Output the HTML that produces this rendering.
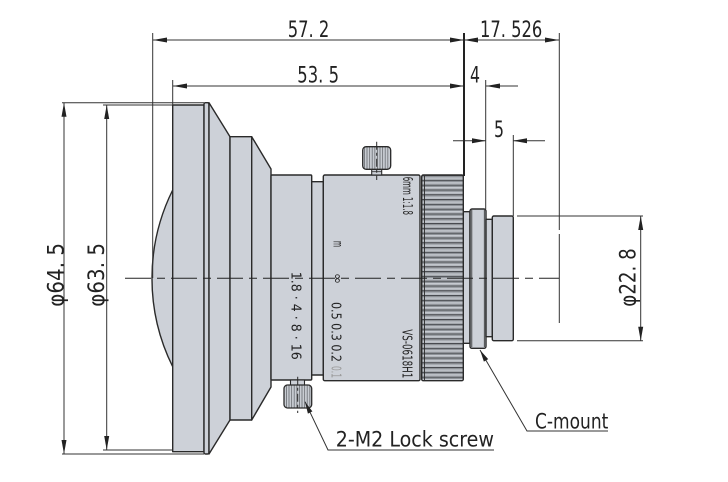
<!DOCTYPE html>
<html><head><meta charset="utf-8"><style>
html,body{margin:0;padding:0;background:#fff;}
svg{display:block;}
text{font-family:"DejaVu Sans","Liberation Sans",sans-serif;fill:#222;}
</style></head><body>
<svg width="728" height="482" viewBox="0 0 728 482" xmlns="http://www.w3.org/2000/svg">
<defs>
<pattern id="kn" patternUnits="userSpaceOnUse" x="0" y="175" width="10" height="4.8">
<rect width="10" height="4.8" fill="#c6cad0"/>
<rect y="0" width="10" height="1.2" fill="#46484d"/>
<rect y="1.2" width="10" height="1.2" fill="#8f9399"/>
<rect y="3.6" width="10" height="0.7" fill="#a9adb3"/>
</pattern>
<pattern id="sc" patternUnits="userSpaceOnUse" x="0" y="0" width="2.6" height="10">
<rect width="2.6" height="10" fill="#c8ccd2"/>
<rect width="0.8" height="10" fill="#6a6d72"/>
</pattern>
</defs>

<g fill="#cdd1d8" stroke="#2a2a2a" stroke-width="1.4" stroke-linejoin="round">
<path d="M172.7,190 A198.7,198.7 0 0 0 172.7,366.7 Z"/>
<rect x="172.7" y="105" width="31.3" height="346.7"/>
<rect x="204" y="102.7" width="5" height="351.3" rx="1.5"/>
<polygon points="209,102.7 230,136.7 230,420 209,454"/>
<rect x="230" y="136.7" width="21.7" height="283.3"/>
<polygon points="251.7,136.7 271,169 271,387 251.7,420"/>
<rect x="271" y="175" width="40.7" height="205" rx="1"/>
<rect x="311.7" y="181.7" width="11.6" height="193.3"/>
<rect x="323.3" y="175" width="96.7" height="205.7" rx="1.5"/>
<rect x="463.3" y="211.7" width="6.7" height="131.6"/>
<rect x="470" y="209" width="16" height="139.3" rx="2"/>
<rect x="486" y="219.3" width="6.3" height="117.4"/>
<rect x="492.3" y="216" width="21" height="124.7" rx="1.5"/>
</g>
<line x1="471.8" y1="210" x2="471.8" y2="347" stroke="#2a2a2a" stroke-width="0.8"/>
<line x1="484.3" y1="210" x2="484.3" y2="347" stroke="#2a2a2a" stroke-width="0.8"/>

<rect x="421.7" y="175" width="41.6" height="205.7" rx="1.5" fill="url(#kn)" stroke="#2a2a2a" stroke-width="1.4"/>
<line x1="424.5" y1="176" x2="424.5" y2="380" stroke="#2a2a2a" stroke-width="0.9"/>

<rect x="371.7" y="168.5" width="10" height="6.5" fill="#cdd1d8" stroke="#2a2a2a" stroke-width="1.1"/>
<line x1="371.7" y1="171.7" x2="381.7" y2="171.7" stroke="#2a2a2a" stroke-width="0.8"/>
<rect x="362.7" y="146.7" width="28" height="22.6" rx="3.5" fill="url(#sc)" stroke="#2a2a2a" stroke-width="1.3"/>
<line x1="376.7" y1="141.7" x2="376.7" y2="180" stroke="#2a2a2a" stroke-width="1" stroke-dasharray="8 3 3 3"/>
<rect x="290.5" y="380" width="14" height="5.5" fill="#cdd1d8" stroke="#2a2a2a" stroke-width="1.1"/>
<rect x="284" y="385" width="27.7" height="23" rx="3.5" fill="url(#sc)" stroke="#2a2a2a" stroke-width="1.3"/>
<line x1="297.7" y1="376.7" x2="297.7" y2="413" stroke="#2a2a2a" stroke-width="1" stroke-dasharray="8 3 3 3"/>

<g font-size="13" style="fill:#333">
<text transform="translate(403,176.7) rotate(90)" textLength="38.3" lengthAdjust="spacingAndGlyphs">6mm 1:1.8</text>
<text transform="translate(333.5,241) rotate(90)" textLength="6" lengthAdjust="spacingAndGlyphs">m</text>
<text transform="translate(333.5,273) rotate(90)" textLength="11" lengthAdjust="spacingAndGlyphs">∞</text>
<text transform="translate(331.5,302) rotate(90)" textLength="60" lengthAdjust="spacingAndGlyphs">0.5 0.3 0.2</text>
<text transform="translate(331.5,366) rotate(90)" textLength="12" lengthAdjust="spacingAndGlyphs" style="fill:#999">0.1</text>
<text transform="translate(402.5,329.3) rotate(90)" textLength="49" lengthAdjust="spacingAndGlyphs">VS-0618H1</text>
<text transform="translate(291.5,271.7) rotate(90)" textLength="88" lengthAdjust="spacingAndGlyphs">1.8 · 4 · 8 · 16</text>
</g>

<line x1="125" y1="278.3" x2="559" y2="278.3" stroke="#222" stroke-width="1" stroke-dasharray="26 6 8 6"/>

<g stroke="#333" stroke-width="1" fill="none">
<line x1="152.7" y1="33" x2="152.7" y2="278"/>
<line x1="153" y1="40" x2="464" y2="40"/>
<line x1="172.7" y1="80" x2="172.7" y2="105"/>
<line x1="173" y1="86" x2="464" y2="86"/>
<line x1="464" y1="40" x2="559" y2="40"/>
<line x1="559.3" y1="33" x2="559.3" y2="230"/>
<line x1="559.3" y1="234" x2="559.3" y2="323"/>
<line x1="485.7" y1="80" x2="485.7" y2="209"/>
<line x1="486" y1="86" x2="518" y2="86"/>
<line x1="513.3" y1="135" x2="513.3" y2="216"/>
<line x1="453" y1="140.7" x2="486" y2="140.7"/>
<line x1="513" y1="140.7" x2="545" y2="140.7"/>
<line x1="62" y1="102.7" x2="204" y2="102.7"/>
<line x1="103" y1="105" x2="172" y2="105"/>
<line x1="62" y1="454" x2="204" y2="454"/>
<line x1="103" y1="450" x2="172" y2="450"/>
<line x1="64" y1="102.7" x2="64" y2="454"/>
<line x1="106.7" y1="105" x2="106.7" y2="450"/>
<line x1="517" y1="216" x2="643" y2="216"/>
<line x1="517" y1="340.7" x2="643" y2="340.7"/>
<line x1="640.7" y1="216" x2="640.7" y2="340.7"/>
<polyline points="480,350 527,431 608,431"/>
<polyline points="305,401.7 328,450 494,450"/>
</g>
<line x1="464" y1="33" x2="464" y2="176" stroke="#222" stroke-width="2"/>

<g fill="#222">
<polygon points="153,40 167,37.5 167,42.5"/>
<polygon points="464,40 450,37.5 450,42.5"/>
<polygon points="464,40 478,37.5 478,42.5"/>
<polygon points="559,40 545,37.5 545,42.5"/>
<polygon points="173,86 187,83.5 187,88.5"/>
<polygon points="464,86 450,83.5 450,88.5"/>
<polygon points="486,86 500,83.5 500,88.5"/>
<polygon points="486,140.7 472,138.2 472,143.2"/>
<polygon points="513,140.7 527,138.2 527,143.2"/>
<polygon points="64,102.7 61.5,116.7 66.5,116.7"/>
<polygon points="64,454 61.5,440 66.5,440"/>
<polygon points="106.7,105 104.2,119 109.2,119"/>
<polygon points="106.7,450 104.2,436 109.2,436"/>
<polygon points="640.7,216 638.2,230 643.2,230"/>
<polygon points="640.7,340.7 638.2,326.7 643.2,326.7"/>
<polygon points="480,350 483.9,361.6 488.2,359.1"/>
<polygon points="305,401.7 307.9,413.6 312.4,411.4"/>
</g>

<g font-size="22">
<text x="287.7" y="37" textLength="41.6" lengthAdjust="spacingAndGlyphs">57. 2</text>
<text x="297.3" y="82.7" textLength="41.7" lengthAdjust="spacingAndGlyphs">53. 5</text>
<text x="480" y="37" textLength="62.3" lengthAdjust="spacingAndGlyphs">17. 526</text>
<text x="470" y="82.7" textLength="10" lengthAdjust="spacingAndGlyphs">4</text>
<text x="494" y="137" textLength="10" lengthAdjust="spacingAndGlyphs">5</text>
<text transform="translate(63.5,306.7) rotate(-90)" textLength="63.7" lengthAdjust="spacingAndGlyphs">φ64. 5</text>
<text transform="translate(104,306.7) rotate(-90)" textLength="63.7" lengthAdjust="spacingAndGlyphs">φ63. 5</text>
<text transform="translate(635.5,306.7) rotate(-90)" textLength="58.4" lengthAdjust="spacingAndGlyphs">φ22. 8</text>
</g>
<g font-size="21">
<text x="535" y="428.3" textLength="73.3" lengthAdjust="spacingAndGlyphs">C-mount</text>
<text x="335.7" y="446.7" textLength="158.3" lengthAdjust="spacingAndGlyphs">2-M2 Lock screw</text>
</g>
</svg>
</body></html>
